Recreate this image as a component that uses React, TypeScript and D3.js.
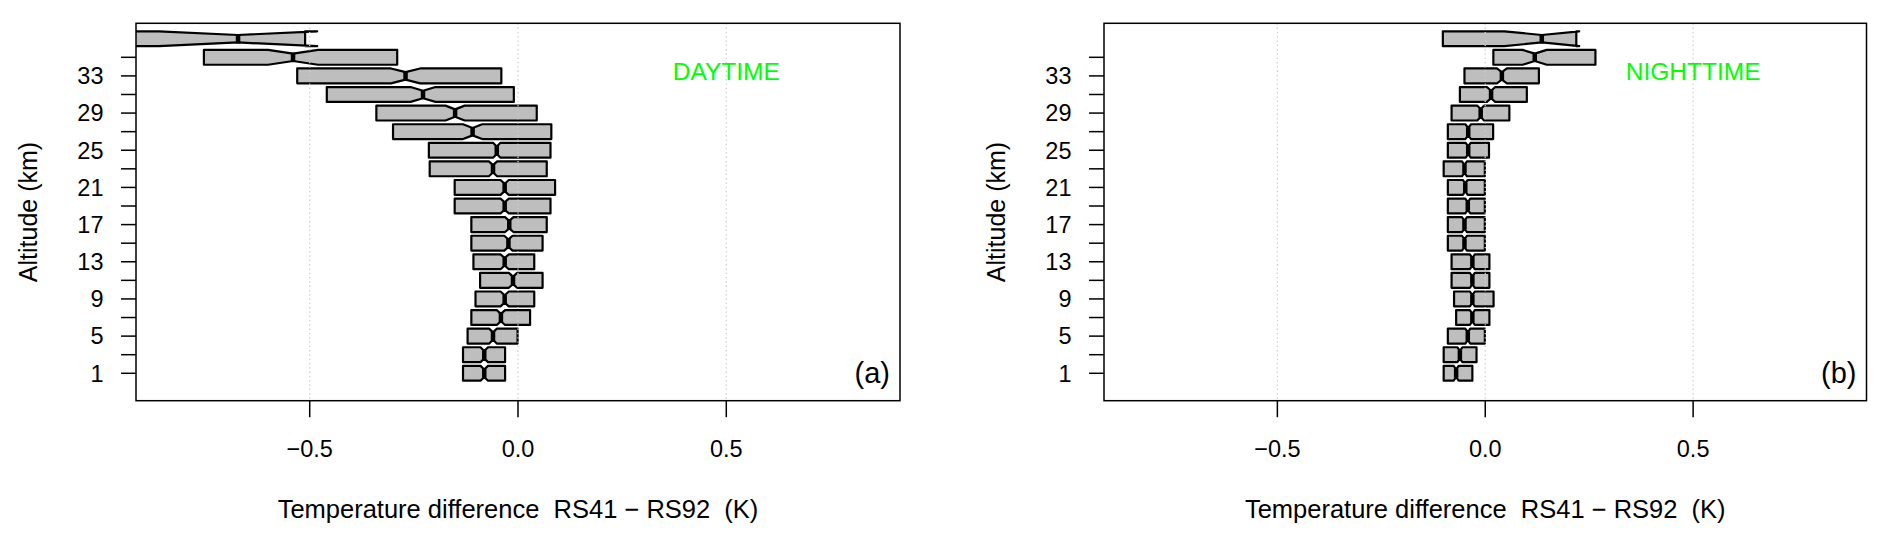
import React from 'react';
import * as d3 from 'd3';

// Altitude levels (km) of the boxes, bottom to top
const altitudes = [1, 3, 5, 7, 9, 11, 13, 15, 17, 19, 21, 23, 25, 27, 29, 31, 33, 35, 37];
const yTickAlts = [1, 3, 5, 7, 9, 11, 13, 15, 17, 19, 21, 23, 25, 27, 29, 31, 33, 35];
const yLabelAlts = [1, 5, 9, 13, 17, 21, 25, 29, 33];
const xTicks = [-0.5, 0, 0.5];
const xTickLabels = ['\u22120.5', '0.0', '0.5'];

// Daytime (a): lower hinge, median, upper hinge, notch half-width (K)
const dayQ1 = [-0.132, -0.132, -0.121, -0.112, -0.102, -0.091, -0.107, -0.112, -0.112, -0.152, -0.152, -0.212, -0.214, -0.300, -0.340, -0.459, -0.530, -0.754, -1.05];
const dayMedian = [-0.081, -0.081, -0.060, -0.041, -0.032, -0.012, -0.032, -0.023, -0.021, -0.032, -0.032, -0.060, -0.051, -0.109, -0.151, -0.228, -0.270, -0.540, -0.672];
const dayQ3 = [-0.031, -0.031, -0.001, 0.029, 0.039, 0.059, 0.039, 0.059, 0.069, 0.078, 0.089, 0.069, 0.078, 0.080, 0.045, -0.010, -0.040, -0.290, -0.511];
const dayNotch = [0.009, 0.009, 0.009, 0.01, 0.01, 0.01, 0.01, 0.01, 0.01, 0.01, 0.01, 0.01, 0.009, 0.023, 0.023, 0.03, 0.035, 0.06, 0.19];

// Nighttime (b)
const nightQ1 = [-0.100, -0.100, -0.090, -0.070, -0.075, -0.081, -0.081, -0.090, -0.090, -0.090, -0.090, -0.100, -0.090, -0.090, -0.081, -0.061, -0.050, 0.0195, -0.102];
const nightMedian = [-0.070, -0.061, -0.042, -0.031, -0.031, -0.031, -0.031, -0.050, -0.050, -0.042, -0.048, -0.050, -0.041, -0.041, -0.011, 0.014, 0.040, 0.119, 0.136];
const nightQ3 = [-0.031, -0.021, -0.001, 0.010, 0.020, 0.010, 0.010, -0.001, -0.001, -0.001, -0.001, -0.001, 0.009, 0.019, 0.058, 0.100, 0.129, 0.265, 0.219];
const nightNotch = [0.006, 0.006, 0.006, 0.006, 0.006, 0.006, 0.006, 0.006, 0.006, 0.006, 0.006, 0.006, 0.006, 0.007, 0.008, 0.01, 0.012, 0.029, 0.09];

const xTitle = 'Temperature difference  RS41 \u2212 RS92  (K)';
const yTitle = 'Altitude (km)';

const FONT = "'Liberation Sans', Arial, Helvetica, sans-serif";

type PanelProps = {
  id: string;
  left: number;
  right: number;
  top: number;
  bottom: number;
  q1: number[];
  med: number[];
  q3: number[];
  notch: number[];
  label: string;
  tag: string;
};

function Panel({ id, left, right, top, bottom, q1, med, q3, notch, label, tag }: PanelProps) {
  const x = d3.scaleLinear().domain([-0.917, 0.917]).range([left, right]);
  const y = d3.scaleLinear().domain([-1.95, 38.66]).range([bottom, top]);
  const halfH = (y(0) - y(1.6)) / 2; // boxwex 0.8 of 2 km spacing
  const nf = 0.5;
  const line = d3.line<[number, number]>();

  return (
    <g>
      <defs>
        <clipPath id={`clip-${id}`}>
          <rect x={left} y={top} width={right - left} height={bottom - top} />
        </clipPath>
      </defs>
      <g clipPath={`url(#clip-${id})`}>
        {altitudes.map((a, i) => {
          const yc = y(a);
          const cl = med[i] - notch[i];
          const ch = med[i] + notch[i];
          const pts: [number, number][] = [
            [x(q1[i]), yc - halfH],
            [x(q1[i]), yc + halfH],
            [x(cl), yc + halfH],
            [x(med[i]), yc + nf * halfH],
            [x(ch), yc + halfH],
            [x(q3[i]), yc + halfH],
            [x(q3[i]), yc - halfH],
            [x(ch), yc - halfH],
            [x(med[i]), yc - nf * halfH],
            [x(cl), yc - halfH],
          ];
          return (
            <g key={a}>
              <path d={line(pts) + 'Z'} fill="#BEBEBE" stroke="#000" strokeWidth={2.2} strokeLinejoin="round" />
              <line x1={x(med[i])} x2={x(med[i])} y1={yc - nf * halfH - 0.8} y2={yc + nf * halfH + 0.8} stroke="#000" strokeWidth={4.5} />
            </g>
          );
        })}
        {xTicks.map((t) => (
          <line key={t} x1={x(t)} x2={x(t)} y1={top} y2={bottom} stroke="#CCCCCC" strokeWidth={1.3} strokeDasharray="1.3,3" />
        ))}
      </g>
      <rect x={left} y={top} width={right - left} height={bottom - top} fill="none" stroke="#000" strokeWidth={1.5} />
      {yTickAlts.map((a) => (
        <line key={a} x1={left - 15} x2={left} y1={y(a)} y2={y(a)} stroke="#000" strokeWidth={1.5} />
      ))}
      {yLabelAlts.map((a) => (
        <text key={a} x={left - 32.5} y={y(a) + 8.3} textAnchor="end" fontSize={23.5} fontFamily={FONT} fill="#000">
          {a}
        </text>
      ))}
      {xTicks.map((t, i) => (
        <g key={t}>
          <line x1={x(t)} x2={x(t)} y1={bottom} y2={bottom + 16.5} stroke="#000" strokeWidth={1.5} />
          <text x={x(t)} y={456.5} textAnchor="middle" fontSize={23.5} fontFamily={FONT} fill="#000">
            {xTickLabels[i]}
          </text>
        </g>
      ))}
      <text x={(left + right) / 2} y={518} textAnchor="middle" fontSize={25.5} fontFamily={FONT} fill="#000" style={{ whiteSpace: 'pre' }}>
        {xTitle}
      </text>
      <text transform={`translate(${left - 99},${(top + bottom) / 2}) rotate(-90)`} textAnchor="middle" fontSize={25} fontFamily={FONT} fill="#000">
        {yTitle}
      </text>
      <text x={x(0.5)} y={79.5} textAnchor="middle" fontSize={24.5} fontFamily={FONT} fill="#00FF00">
        {label}
      </text>
      <text x={right - 10} y={383} textAnchor="end" fontSize={29} fontFamily={FONT} fill="#000">
        {tag}
      </text>
    </g>
  );
}

export default function App() {
  return (
    <svg
      width={1888}
      height={544}
      viewBox="0 0 1888 544"
      style={{ position: 'absolute', left: 0, top: 0, background: '#fff' }}
    >
      <rect x={0} y={0} width={1888} height={544} fill="#fff" />
      <Panel id="a" left={136} right={900} top={23.3} bottom={400.7} q1={dayQ1} med={dayMedian} q3={dayQ3} notch={dayNotch} label="DAYTIME" tag="(a)" />
      <Panel id="b" left={1104} right={1866.5} top={23.3} bottom={400.7} q1={nightQ1} med={nightMedian} q3={nightQ3} notch={nightNotch} label="NIGHTTIME" tag="(b)" />
    </svg>
  );
}
